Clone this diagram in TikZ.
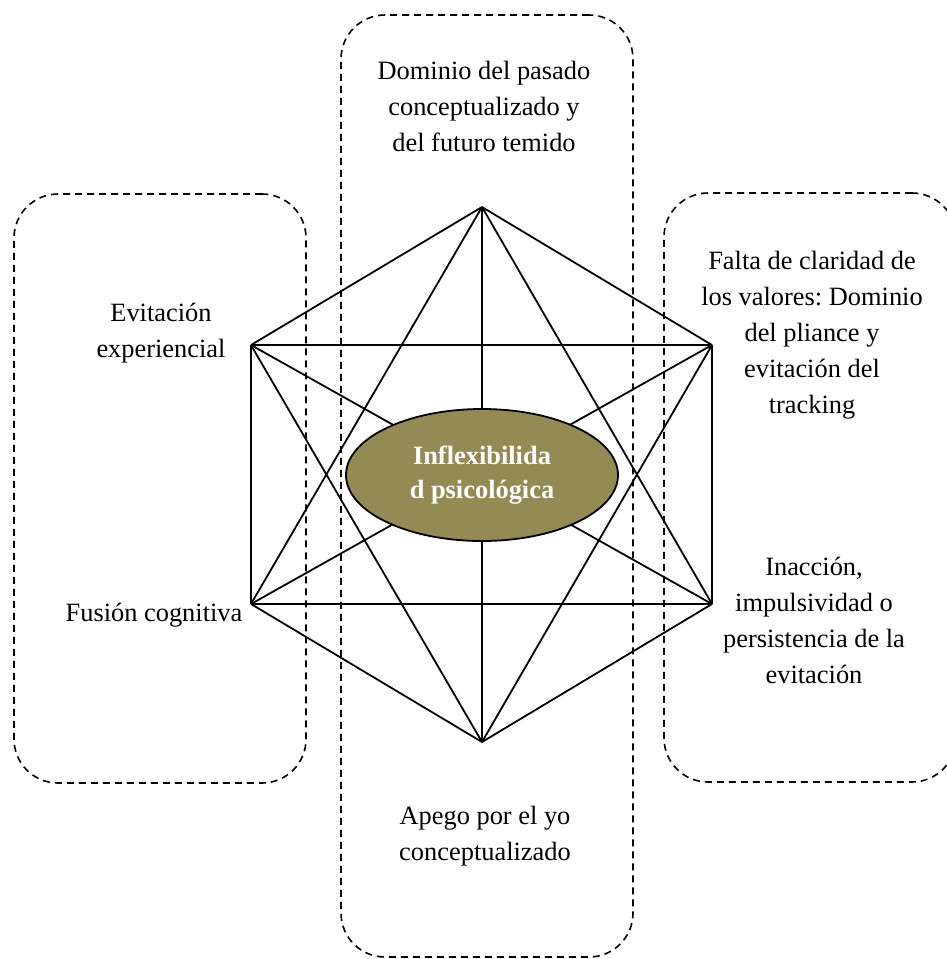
\documentclass[tikz,border=0pt]{standalone}
\usepackage{fontspec}
\setmainfont{Liberation Serif}
\frenchspacing
\usetikzlibrary{positioning, shapes.geometric}
\definecolor{coreolive}{HTML}{948A54}

\begin{document}
\begin{tikzpicture}[x=0.5pt, y=-0.5pt,
        zone/.style={draw, dash pattern=on 3.5pt off 2.5pt, line width=0.8pt, rounded corners=22pt, minimum width=146pt, inner sep=0pt},
        lbl/.style={align=center, inner sep=0pt, font=\fontsize{13.2}{18}\selectfont},
        link/.style={line width=0.9pt}]
        \useasboundingbox (0,0) rectangle (947,959);
        \clip (0,0) rectangle (947,959);

        % dashed zones
        \node[zone, minimum height=294.5pt] (BL) at (160,488.5) {};
        \node[zone, minimum height=471pt] (BC) at (487,486) {};
        \node[zone, minimum height=294.5pt] (BR) at (810,487.5) {};

        % hexagon corners
        \coordinate (V1) at (482,207);
        \coordinate (V2) at (712,345);
        \coordinate (V3) at (712,604);
        \coordinate (V4) at (482,742);
        \coordinate (V5) at (251,604);
        \coordinate (V6) at (251,345);

        \draw[link] (V1) -- (V2) (V1) -- (V3) (V1) -- (V4) (V1) -- (V5) (V1) -- (V6);
        \draw[link] (V2) -- (V3) (V2) -- (V4) (V2) -- (V5) (V2) -- (V6);
        \draw[link] (V3) -- (V4) (V3) -- (V5) (V3) -- (V6);
        \draw[link] (V4) -- (V5) (V4) -- (V6);
        \draw[link] (V5) -- (V6);

        \node[draw, ellipse, link, fill=coreolive, minimum width=136pt, minimum height=66pt, inner sep=0pt,
            align=center, text=white, font=\fontsize{13.2}{17}\selectfont\bfseries] (core) at (482,475)
            {Inflexibilida\\d psicológica};

        \node[lbl] (Ltop) at (484,106) {Dominio del pasado\\conceptualizado y\\del futuro temido};
        \node[lbl] (Lleft) at (161,333) {Evitación\\experiencial};
        \node[lbl] (Lfus) at (154,615) {Fusión cognitiva};
        \node[lbl] (Lright) at (812,335) {Falta de claridad de\\los valores: Dominio\\del pliance y\\evitación del\\tracking};
        \node[lbl] (Linac) at (814,620) {Inacción,\\impulsividad o\\persistencia de la\\evitación};
        \node[lbl] (Lbot) at (485,836) {Apego por el yo\\conceptualizado};
    \end{tikzpicture}
\end{document}
